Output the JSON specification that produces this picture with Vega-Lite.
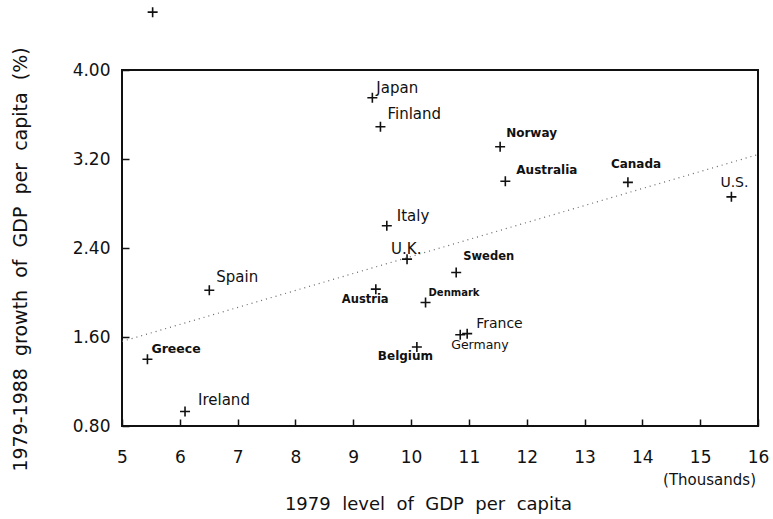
{
  "$schema": "https://vega.github.io/schema/vega-lite/v6.json",
  "width": 636,
  "height": 356,
  "autosize": {"type": "none"},
  "padding": {"left": 122, "top": 70, "right": 15, "bottom": 93},
  "background": "white",
  "config": {
    "view": {"stroke": "#111", "strokeWidth": 2},
    "font": "DejaVu Sans",
    "text": {"font": "DejaVu Sans", "align": "left", "baseline": "alphabetic", "fontSize": 15, "color": "#111"},
    "axis": {
      "labelFont": "DejaVu Sans", "labelFontSize": 17, "labelColor": "#111",
      "titleFont": "DejaVu Sans", "titleFontWeight": "normal", "titleColor": "#111",
      "tickColor": "#111", "tickWidth": 1.5, "tickSize": -7,
      "domain": false, "grid": false, "labelFlush": false, "labelOverlap": false
    }
  },
  "data": {
    "values": [
      {"country": "Japan", "gdp79": 9.33, "growth": 3.75},
      {"country": "Finland", "gdp79": 9.47, "growth": 3.49},
      {"country": "Norway", "gdp79": 11.54, "growth": 3.31},
      {"country": "Australia", "gdp79": 11.63, "growth": 3.00},
      {"country": "Canada", "gdp79": 13.75, "growth": 2.99},
      {"country": "U.S.", "gdp79": 15.54, "growth": 2.86},
      {"country": "Italy", "gdp79": 9.58, "growth": 2.60},
      {"country": "U.K.", "gdp79": 9.93, "growth": 2.30},
      {"country": "Sweden", "gdp79": 10.78, "growth": 2.18},
      {"country": "Denmark", "gdp79": 10.25, "growth": 1.91},
      {"country": "Austria", "gdp79": 9.39, "growth": 2.03},
      {"country": "Spain", "gdp79": 6.51, "growth": 2.02},
      {"country": "Greece", "gdp79": 5.44, "growth": 1.40},
      {"country": "Ireland", "gdp79": 6.09, "growth": 0.93},
      {"country": "Belgium", "gdp79": 10.10, "growth": 1.51},
      {"country": "France", "gdp79": 10.97, "growth": 1.63},
      {"country": "Germany", "gdp79": 10.85, "growth": 1.62},
      {"country": "", "gdp79": 5.53, "growth": 4.52}
    ]
  },
  "layer": [
    {
      "data": {"values": [{"gdp79": 5, "growth": 1.56}, {"gdp79": 16, "growth": 3.24}]},
      "mark": {"type": "line", "color": "#666", "strokeWidth": 1.2, "strokeDash": [1, 4]},
      "encoding": {
        "x": {
          "field": "gdp79", "type": "quantitative",
          "scale": {"domain": [5, 16], "nice": false, "zero": false},
          "axis": {
            "values": [5, 6, 7, 8, 9, 10, 11, 12, 13, 14, 15, 16], "format": "d",
            "labelPadding": 30,
            "title": "1979\u00a0\u00a0level\u00a0\u00a0of\u00a0\u00a0GDP\u00a0\u00a0per\u00a0\u00a0capita",
            "titleFontSize": 18, "titleX": 306, "titleY": 78, "titleBaseline": "middle", "titleAlign": "center"
          }
        },
        "y": {
          "field": "growth", "type": "quantitative",
          "scale": {"domain": [0.8, 4.0], "nice": false, "zero": false},
          "axis": {
            "values": [0.8, 1.6, 2.4, 3.2, 4.0], "format": ".2f",
            "labelPadding": 19,
            "title": "1979-1988\u00a0\u00a0growth\u00a0\u00a0of\u00a0\u00a0GDP\u00a0\u00a0per\u00a0\u00a0capita\u00a0\u00a0(%)",
            "titleFontSize": 19, "titleX": -102, "titleY": 189, "titleAngle": -90, "titleBaseline": "middle", "titleAlign": "center"
          }
        }
      }
    },
    {
      "data": {"values": [{"note": "(Thousands)"}]},
      "mark": {"type": "text", "align": "right", "baseline": "middle", "dx": -2, "dy": 54, "fontSize": 15},
      "encoding": {"x": {"datum": 16, "type": "quantitative"}, "y": {"datum": 0.8, "type": "quantitative"}, "text": {"field": "note"}}
    },
    {
      "encoding": {
        "x": {"field": "gdp79", "type": "quantitative"},
        "y": {"field": "growth", "type": "quantitative"}
      },
      "layer": [
        {
          "mark": {"type": "point", "shape": "M-1,0H1M0,-1V1", "filled": false, "stroke": "#111", "strokeWidth": 1.6, "size": 100, "opacity": 1}
        },
        {"transform": [{"filter": "datum.country === 'Japan'"}], "mark": {"type": "text", "dx": 4, "dy": -5}, "encoding": {"text": {"field": "country"}}},
        {"transform": [{"filter": "datum.country === 'Finland'"}], "mark": {"type": "text", "dx": 7, "dy": -8}, "encoding": {"text": {"field": "country"}}},
        {"transform": [{"filter": "datum.country === 'Italy'"}], "mark": {"type": "text", "dx": 10, "dy": -5}, "encoding": {"text": {"field": "country"}}},
        {"transform": [{"filter": "datum.country === 'Spain'"}], "mark": {"type": "text", "dx": 7, "dy": -8}, "encoding": {"text": {"field": "country"}}},
        {"transform": [{"filter": "datum.country === 'Ireland'"}], "mark": {"type": "text", "dx": 13, "dy": -7}, "encoding": {"text": {"field": "country"}}},
        {"transform": [{"filter": "datum.country === 'U.K.'"}], "mark": {"type": "text", "dx": -16, "dy": -5}, "encoding": {"text": {"field": "country"}}},
        {"transform": [{"filter": "datum.country === 'U.S.'"}], "mark": {"type": "text", "dx": -11, "dy": -10, "fontSize": 14}, "encoding": {"text": {"field": "country"}}},
        {"transform": [{"filter": "datum.country === 'France'"}], "mark": {"type": "text", "dx": 9, "dy": -6, "fontSize": 14}, "encoding": {"text": {"field": "country"}}},
        {"transform": [{"filter": "datum.country === 'Germany'"}], "mark": {"type": "text", "dx": -9, "dy": 14, "fontSize": 12.5}, "encoding": {"text": {"field": "country"}}},
        {"transform": [{"filter": "datum.country === 'Norway'"}], "mark": {"type": "text", "dx": 6, "dy": -10, "fontSize": 12, "fontWeight": "bold"}, "encoding": {"text": {"field": "country"}}},
        {"transform": [{"filter": "datum.country === 'Australia'"}], "mark": {"type": "text", "dx": 11, "dy": -7, "fontSize": 12, "fontWeight": "bold"}, "encoding": {"text": {"field": "country"}}},
        {"transform": [{"filter": "datum.country === 'Canada'"}], "mark": {"type": "text", "dx": -17, "dy": -14, "fontSize": 12, "fontWeight": "bold"}, "encoding": {"text": {"field": "country"}}},
        {"transform": [{"filter": "datum.country === 'Sweden'"}], "mark": {"type": "text", "dx": 7, "dy": -12, "fontSize": 11.5, "fontWeight": "bold"}, "encoding": {"text": {"field": "country"}}},
        {"transform": [{"filter": "datum.country === 'Denmark'"}], "mark": {"type": "text", "dx": 3, "dy": -7, "fontSize": 10, "fontWeight": "bold"}, "encoding": {"text": {"field": "country"}}},
        {"transform": [{"filter": "datum.country === 'Austria'"}], "mark": {"type": "text", "dx": -34, "dy": 14, "fontSize": 11.5, "fontWeight": "bold"}, "encoding": {"text": {"field": "country"}}},
        {"transform": [{"filter": "datum.country === 'Belgium'"}], "mark": {"type": "text", "dx": -39, "dy": 13, "fontSize": 12, "fontWeight": "bold"}, "encoding": {"text": {"field": "country"}}},
        {"transform": [{"filter": "datum.country === 'Greece'"}], "mark": {"type": "text", "dx": 4, "dy": -6, "fontSize": 12.5, "fontWeight": "bold"}, "encoding": {"text": {"field": "country"}}}
      ]
    }
  ]
}
